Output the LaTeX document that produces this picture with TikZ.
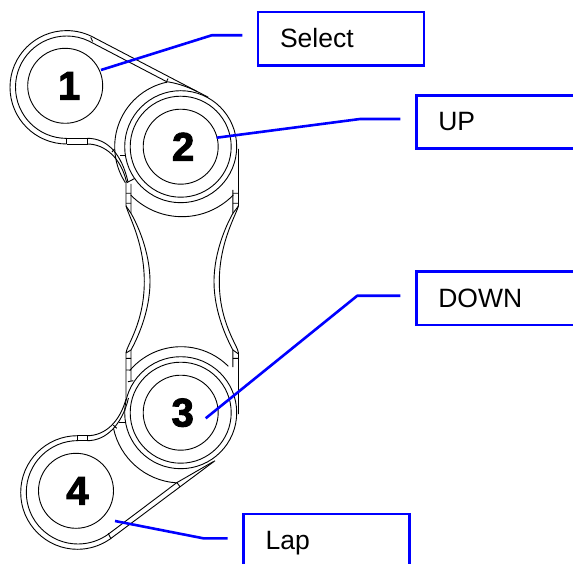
\documentclass[tikz,border=0pt]{standalone}
\usepackage{fontspec}
\setmainfont{Liberation Sans}
\newfontfamily\digitfont[FakeBold=2.5]{Liberation Sans Bold}
\definecolor{callblue}{RGB}{0,0,255}
\tikzset{
  part/.style={draw=black,line width=0.9pt,fill=none},
  btn/.style={circle,draw=black,line width=0.9pt,minimum size=75pt,inner sep=0pt,font=\digitfont\fontsize{40}{40}\selectfont},
  callout/.style={rectangle,draw=callblue,line width=2.5pt,anchor=north west,inner xsep=22pt,inner ysep=0pt,outer sep=0pt,
    text width=122pt,align=left,text height=35.3pt,text depth=18pt,
    font=\fontsize{26.5}{26.5}\selectfont},
  leader/.style={draw=callblue,line width=2.6pt,line join=round},
}
\begin{document}
\begin{tikzpicture}[x=1pt,y=1pt,yscale=-1]
\useasboundingbox (0,0) rectangle (573,564);
% buttons
\node[btn] (b1) at (65.2,85.8) {\kern8pt\raisebox{-1pt}{1}};
\node[btn] (b2) at (180.7,146.7) {\kern5pt\raisebox{-0.5pt}{2}};
\node[btn] (b3) at (180.7,412.7) {\kern4pt\raisebox{-1pt}{3}};
\node[btn] (b4) at (76,490.8) {\kern3pt\raisebox{-1pt}{4}};
% rings on 2 and 3
\draw[part] (180.7,146.7) circle[radius=50.5pt] (180.7,146.7) circle[radius=56pt];
\draw[part] (180.7,412.7) circle[radius=50.5pt] (180.7,412.7) circle[radius=56pt];
% lobe 1
\draw[part] (66.7,87.3) ++(90:56.7) arc[start angle=90,end angle=296,radius=56.7pt] -- (208.3,97.3);
\draw[part] (66.7,87.2) ++(90:51.2) arc[start angle=90,end angle=296,radius=51.2pt] -- (166.7,81.7) .. controls (176,83) and (186,86) .. (197,91.5);
\draw[part] (90.7,37.3) -- (92.7,41.5);
\draw[part] (168,78.5) -- (166,83);
\draw[part] (66.7,144) -- (66.7,138.3);
\draw[part] (66.7,144) -- (87.3,144) -- (87.3,138.3) -- (66.7,138.3);
\draw[part] (87.3,144) .. controls (105,144) and (121,158) .. (126.5,182);
\draw[part] (87.3,138.3) .. controls (108,138.3) and (122,155) .. (128,182);
\draw[part] (112,152) -- (114.5,149);
\draw[part] (120,155.3) -- (126,155.3);
\draw[part] (126.7,182.7) -- (135,178.3);
% arcs round 2
\draw[part] (180.7,146.7) ++(258:66) arc[start angle=258,end angle=147,radius=66pt];
\draw[part] (182,145.2) ++(136:71.5) arc[start angle=136,end angle=44,radius=71.5pt];
% arcs round 3
\draw[part] (181,413.7) ++(220:67) arc[start angle=220,end angle=315,radius=67pt];
\draw[part] (181,414) ++(168:69) arc[start angle=168,end angle=94,radius=69pt];
% waist, left
\draw[part] (126,182) -- (126,205) .. controls (126.3,212) and (144.3,240) .. (144.3,281.7) .. controls (144.3,323) and (126.3,346) .. (126,353) -- (126,398);
\draw[part] (131,184) -- (131,213.3) .. controls (136,222) and (150,250) .. (150,281.7) .. controls (150,313) and (136,341) .. (131,350) -- (131,381);
\draw[part] (126,193.3) -- (131,193.3) (126,203.3) -- (131,203.3) (126,206) -- (131,213.3);
\draw[part] (126,353) -- (131,350) (126,358.3) -- (131,358.3) (126,370) -- (131,370) (128,381.7) -- (133.3,380.7);
% waist, right
\draw[part] (238.5,149) -- (238.5,205) .. controls (238,212) and (219.3,240) .. (219.3,281.7) .. controls (219.3,323) and (238,346) .. (238.5,353) -- (238.5,414);
\draw[part] (232.9,190) -- (232.9,213.3) .. controls (228,222) and (214,250) .. (214,281.7) .. controls (214,313) and (228,341) .. (232.9,350) -- (232.9,367);
\draw[part] (232.9,193.3) -- (238.5,193.3) (232.9,203.3) -- (238.5,203.3) (238.5,206) -- (232.9,213.3);
\draw[part] (232.9,350) -- (238.5,354) (232.9,358.3) -- (238.5,358.3);
% lobe 4
\draw[part] (77.5,492.5) ++(270:56.8) arc[start angle=270,end angle=54.5,radius=56.8pt] -- (215,460.7);
\draw[part] (78,492.3) ++(270:51.7) arc[start angle=270,end angle=54,radius=51.7pt] -- (176.7,482.7) -- (213.5,461.5);
\draw[part] (77.3,435.7) -- (77.3,440.7);
\draw[part] (77.3,435.7) -- (87.3,435.7) -- (87.3,440.7) -- (77.3,440.7);
\draw[part] (87.3,435.7) .. controls (105,435.7) and (120,422) .. (126.3,398);
\draw[part] (87.3,440.7) .. controls (106,440.7) and (122,425) .. (128.5,398);
\draw[part] (113.3,425) -- (116.7,428.3);
\draw[part] (119.3,422.3) -- (125,422.3);
\draw[part] (108.3,533.3) -- (111,539);
\draw[part] (176.7,482.3) -- (180,486.7);
% call-out boxes
\node[callout] (sel) at (258,12) {Select};
\node[callout] (up) at (416.3,95.3) {UP};
\node[callout] (down) at (416.3,271.7) {DOWN};
\node[callout] (lap) at (243.6,514) {Lap};
% leaders
\coordinate (e1) at (242.3,35.3);
\coordinate (e2) at (400.3,119);
\coordinate (e3) at (400.3,295.7);
\coordinate (e4) at (227.7,538.3);
\coordinate (s1) at (101,70);
\coordinate (s2) at (216.7,137.7);
\coordinate (s3) at (205.7,418.3);
\coordinate (s4) at (115,521);
\draw[leader] (s1) -- (211.7,35.3) -- (e1);
\draw[leader] (s2) -- (360,119) -- (e2);
\draw[leader] (s3) -- (357.3,295.7) -- (e3);
\draw[leader] (s4) -- (203.3,538.3) -- (e4);
\end{tikzpicture}
\end{document}
